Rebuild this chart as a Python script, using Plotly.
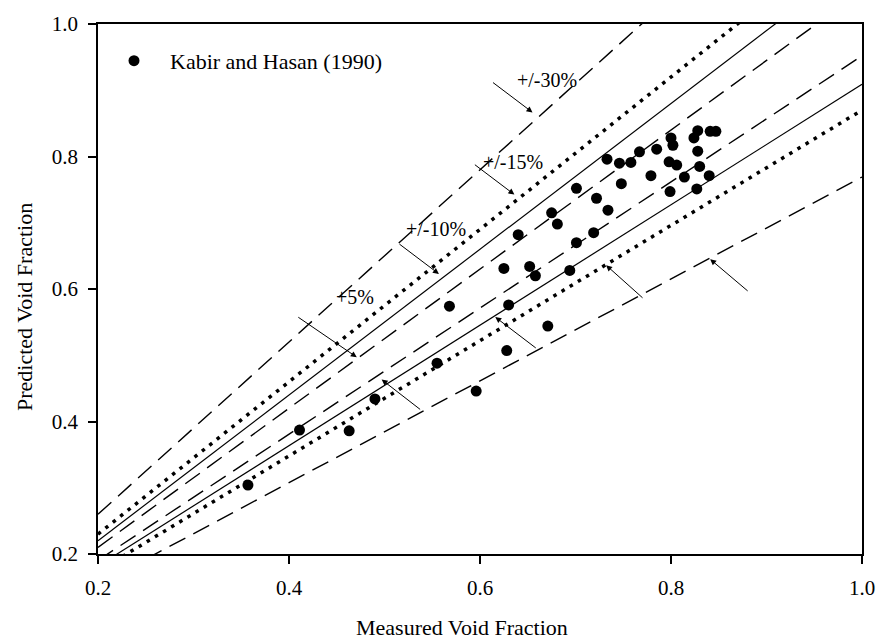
import numpy as np
import plotly.graph_objects as go

# Measured vs predicted void fraction (Kabir and Hasan, 1990)
measured = [0.357, 0.411, 0.463, 0.490, 0.555, 0.568, 0.596, 0.628, 0.625, 0.630,
            0.671, 0.652, 0.658, 0.640, 0.675, 0.681, 0.701, 0.701, 0.719, 0.722,
            0.734, 0.733, 0.746, 0.758, 0.767, 0.785, 0.800, 0.802, 0.798, 0.806,
            0.824, 0.828, 0.841, 0.847, 0.828, 0.830, 0.694, 0.748, 0.779, 0.799,
            0.814, 0.827, 0.840]
predicted = [0.304, 0.387, 0.386, 0.434, 0.488, 0.574, 0.446, 0.507, 0.631, 0.576,
             0.544, 0.634, 0.620, 0.682, 0.715, 0.698, 0.752, 0.670, 0.685, 0.737,
             0.719, 0.796, 0.790, 0.791, 0.807, 0.811, 0.828, 0.817, 0.792, 0.787,
             0.828, 0.839, 0.838, 0.838, 0.808, 0.785, 0.628, 0.759, 0.771, 0.747,
             0.769, 0.751, 0.771]

# Error band lines: predicted = factor * measured
band_factors = [1.30, 1.15, 1.10, 1.05, 0.952, 0.909, 0.870, 0.769]
band_styles = ["dash", "dot", "solid", "dash", "dash", "solid", "dot", "dash"]
x_span = [0.2, 1.0]

# Arrow annotations: head point (measured, predicted), tail offset px
arrow_heads_x = [0.655, 0.636, 0.557, 0.471, 0.497, 0.616, 0.732, 0.841]
arrow_heads_y = [0.8665, 0.7425, 0.6227, 0.497, 0.4633, 0.5576, 0.636, 0.645]
arrow_ax = [-41, -41, -41, -60, 40, 42, 38, 39]
arrow_ay = [-31, -31, -31, -41, 31, 32, 34, 33]
label_text = ["+/-30%", "+/-15%", "+/-10%", "+5%"]
label_px = [552, 518, 440, 358]
label_py = [57, 141, 222, 292]

x_title = "Measured Void Fraction"
y_title = "Predicted Void Fraction"

W, H = 887, 644
ML, MR, MT, MB = 98, 16, 13, 90
PW, PH = W - ML - MR, H - MT - MB
FONT = "Liberation Serif"


def paper_x(px):
    return (px - ML) / PW


def paper_y(py):
    return 1 - (py - MT) / PH


fig = go.Figure()

xs = np.array(x_span)
for f, st in zip(band_factors, band_styles):
    if st == "dash":
        line = dict(color="black", width=1.4, dash="18px,9px")
    elif st == "dot":
        line = dict(color="black", width=3.5, dash="3.5px,6px")
    else:
        line = dict(color="black", width=1.2)
    fig.add_trace(go.Scatter(x=xs, y=f * xs, mode="lines", line=line,
                             showlegend=False, hoverinfo="skip"))

fig.add_trace(go.Scatter(x=measured, y=predicted, mode="markers",
                         name="Kabir and Hasan (1990)",
                         marker=dict(color="black", size=11)))

for hx, hy, ax, ay in zip(arrow_heads_x, arrow_heads_y, arrow_ax, arrow_ay):
    fig.add_annotation(x=hx, y=hy, ax=ax, ay=ay, xref="x", yref="y",
                       showarrow=True, arrowhead=2, arrowsize=1.2, arrowwidth=1,
                       arrowcolor="black", standoff=0, text="")

for t, px, py in zip(label_text, label_px, label_py):
    fig.add_annotation(x=paper_x(px), y=paper_y(py),
                       xref="paper", yref="paper", text=t, showarrow=False,
                       font=dict(family=FONT, size=20, color="black"))

# axis titles (placed as in the original figure)
fig.add_annotation(x=paper_x(466), y=paper_y(629), xref="paper", yref="paper",
                   text=x_title, showarrow=False, xanchor="center", yanchor="middle",
                   font=dict(family=FONT, size=22, color="black"))
fig.add_annotation(x=paper_x(23), y=paper_y(302), xref="paper", yref="paper",
                   text=y_title, showarrow=False, textangle=-90,
                   xanchor="center", yanchor="middle",
                   font=dict(family=FONT, size=22, color="black"))

axis_common = dict(range=[0.2, 1.0], dtick=0.2, tick0=0.2, tickformat=".1f",
                   showgrid=False, zeroline=False, showline=True, linecolor="black",
                   linewidth=1.5, mirror=True, ticks="outside", ticklen=8,
                   tickwidth=1.5, tickcolor="black",
                   tickfont=dict(family=FONT, size=21, color="black"))

fig.update_layout(
    width=W, height=H,
    margin=dict(l=ML, r=MR, t=MT, b=MB),
    paper_bgcolor="white", plot_bgcolor="white",
    xaxis=dict(**axis_common, ticklabelstandoff=6),
    yaxis=dict(**axis_common, ticklabelstandoff=6),
    legend=dict(x=0.0, y=0.97, xanchor="left", yanchor="top",
                bgcolor="rgba(0,0,0,0)", itemwidth=62,
                font=dict(family=FONT, size=22, color="black")),
    showlegend=True,
)

fig.write_html("out.html")
